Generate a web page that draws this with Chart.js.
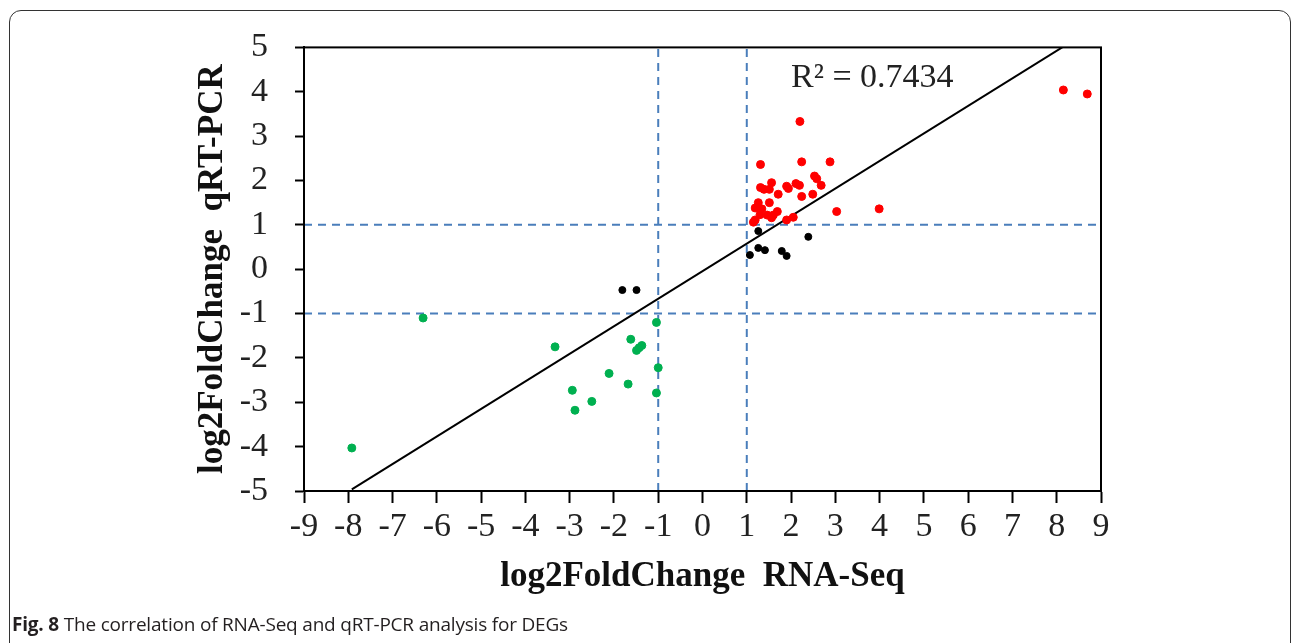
<!DOCTYPE html>
<html>
<head>
<meta charset="utf-8">
<script src="https://cdn.jsdelivr.net/npm/chart.js@4.4.1/dist/chart.umd.min.js"></script>
<style>
  html, body { margin: 0; padding: 0; background: #fff; }
  #wrap { position: relative; width: 1292px; height: 643px; overflow: hidden; }
  #frame { position: absolute; left: 9px; top: 10px; width: 1282px; height: 700px;
           border: 1.5px solid #333; border-radius: 12px; box-sizing: border-box; }
  #chartBox { position: absolute; left: 0; top: 0; width: 1292px; height: 643px; }
  #caption { position: absolute; left: 12px; top: 611px; font-family: "Open Sans", sans-serif;
             font-size: 19px; color: #231f20; white-space: nowrap; letter-spacing: -0.2px; }
</style>
</head>
<body>
<div id="wrap">
  <div id="frame"></div>
  <div id="chartBox"><canvas id="myChart"></canvas></div>
  <div id="caption"><b>Fig. 8</b> The correlation of RNA-Seq and qRT-PCR analysis for DEGs</div>
</div>
<script>
// up-regulated in both (red)
const upX = [8.15, 8.69, 2.20, 1.31, 2.24, 2.88, 2.53, 2.58, 2.68, 2.49, 2.24, 2.11, 2.19, 1.90, 1.94, 1.71, 1.56,
             1.31, 1.39, 1.51, 1.51, 1.26, 1.19, 1.34, 1.30, 1.46, 1.60, 1.69, 1.56, 1.19, 1.90, 2.05, 3.03, 3.99, 1.15];
const upY = [4.04, 3.95, 3.33, 2.36, 2.42, 2.42, 2.10, 2.04, 1.89, 1.69, 1.64, 1.93, 1.89, 1.87, 1.82, 1.69, 1.95,
             1.84, 1.80, 1.80, 1.50, 1.50, 1.38, 1.36, 1.23, 1.22, 1.22, 1.30, 1.16, 1.11, 1.11, 1.17, 1.30, 1.36, 1.06];
// down-regulated in both (green)
const downX = [-7.92, -6.31, -3.33, -2.94, -2.88, -2.50, -2.11, -1.68, -1.62, -1.49, -1.43, -1.37, -1.04, -1.00, -1.04];
const downY = [-4.03, -1.10, -1.75, -2.73, -3.18, -2.98, -2.35, -2.59, -1.58, -1.83, -1.77, -1.72, -1.20, -2.22, -2.79];
// not consistent (black)
const otherX = [1.26, 2.39, 1.26, 1.41, 1.07, 1.79, 1.90, -1.81, -1.49];
const otherY = [0.86, 0.73, 0.48, 0.43, 0.32, 0.41, 0.30, -0.47, -0.47];

// trendline
const trendSlope = 0.621;
const trendIntercept = -0.044;
const r2Label = 'R\u00b2 = 0.7434';

// dashed threshold lines
const cutoffs = [-1, 1];
const xTicksMin = -9, xTicksMax = 9;
const yTicksMin = -5, yTicksMax = 5;

function pts(xs, ys) { return xs.map((x, i) => ({ x: x, y: ys[i] })); }

const allX = upX.concat(downX, otherX);
const tx0 = Math.min(...allX), tx1 = Math.max(...allX);
const trendData = [
  { x: tx0, y: trendSlope * tx0 + trendIntercept },
  { x: tx1, y: trendSlope * tx1 + trendIntercept }
];

const dashBlue = '#4a7ebb';
const refSets = [];
cutoffs.forEach(c => {
  refSets.push({ type: 'line', data: [{ x: c, y: yTicksMin }, { x: c, y: yTicksMax }] });
  refSets.push({ type: 'line', data: [{ x: xTicksMin, y: c }, { x: xTicksMax, y: c }] });
});
refSets.forEach(d => {
  d.borderColor = dashBlue; d.borderWidth = 2; d.borderDash = [8, 6];
  d.pointRadius = 0; d.fill = false; d.order = 5;
});

const serif = '"Liberation Serif", "Times New Roman", serif';

// box round the plot area + R² label
const plotFrame = {
  id: 'plotFrame',
  afterDatasetsDraw(chart) {
    const { ctx, chartArea: a, scales } = chart;
    ctx.save();
    ctx.strokeStyle = '#000';
    ctx.lineWidth = 2;
    ctx.strokeRect(a.left, a.top, a.right - a.left, a.bottom - a.top);
    ctx.fillStyle = '#222';
    ctx.font = '34px ' + serif;
    ctx.textAlign = 'left';
    ctx.textBaseline = 'middle';
    ctx.fillText(r2Label, scales.x.getPixelForValue(2.0), scales.y.getPixelForValue(4.31));
    ctx.restore();
  }
};

const ctx = document.getElementById('myChart').getContext('2d');
const myChart = new Chart(ctx, {
  type: 'scatter',
  data: {
    datasets: [
      { data: pts(upX, upY), backgroundColor: '#ff0000', borderColor: '#ff0000', pointRadius: 4, order: 1 },
      { data: pts(downX, downY), backgroundColor: '#00b050', borderColor: '#00b050', pointRadius: 4, order: 1 },
      { data: pts(otherX, otherY), backgroundColor: '#000', borderColor: '#000', pointRadius: 3.5, order: 1 },
      { type: 'line', data: trendData, borderColor: '#000', borderWidth: 2, pointRadius: 0, fill: false, order: 2 }
    ].concat(refSets)
  },
  options: {
    responsive: true,
    maintainAspectRatio: false,
    animation: false,
    layout: { padding: { left: 0, top: 41, right: 191, bottom: 0 } },
    plugins: { legend: { display: false }, tooltip: { enabled: false } },
    scales: {
      x: {
        type: 'linear', min: xTicksMin, max: xTicksMax,
        afterFit: s => { s.height = 152; },
        ticks: { stepSize: 1, color: '#222', padding: 4, font: { family: serif, size: 34 } },
        grid: { drawOnChartArea: false, drawTicks: true, tickLength: 12, tickColor: '#000', tickWidth: 2 },
        border: { display: true, color: '#000', width: 2 },
        title: { display: true, text: 'log2FoldChange  RNA-Seq', color: '#111',
                 font: { family: serif, size: 35, weight: 'bold' }, padding: { top: 0, bottom: 45 } }
      },
      y: {
        type: 'linear', min: yTicksMin, max: yTicksMax,
        afterFit: s => { s.width = 304; },
        ticks: { stepSize: 1, color: '#222', padding: 27, font: { family: serif, size: 34 } },
        grid: { drawOnChartArea: false, drawTicks: true, tickLength: 9, tickColor: '#000', tickWidth: 2 },
        border: { display: true, color: '#000', width: 2 },
        title: { display: true, text: 'log2FoldChange  qRT-PCR', color: '#111',
                 font: { family: serif, size: 35, weight: 'bold' }, padding: { top: 192, bottom: 0 } }
      }
    }
  },
  plugins: [plotFrame]
});
</script>
</body>
</html>
